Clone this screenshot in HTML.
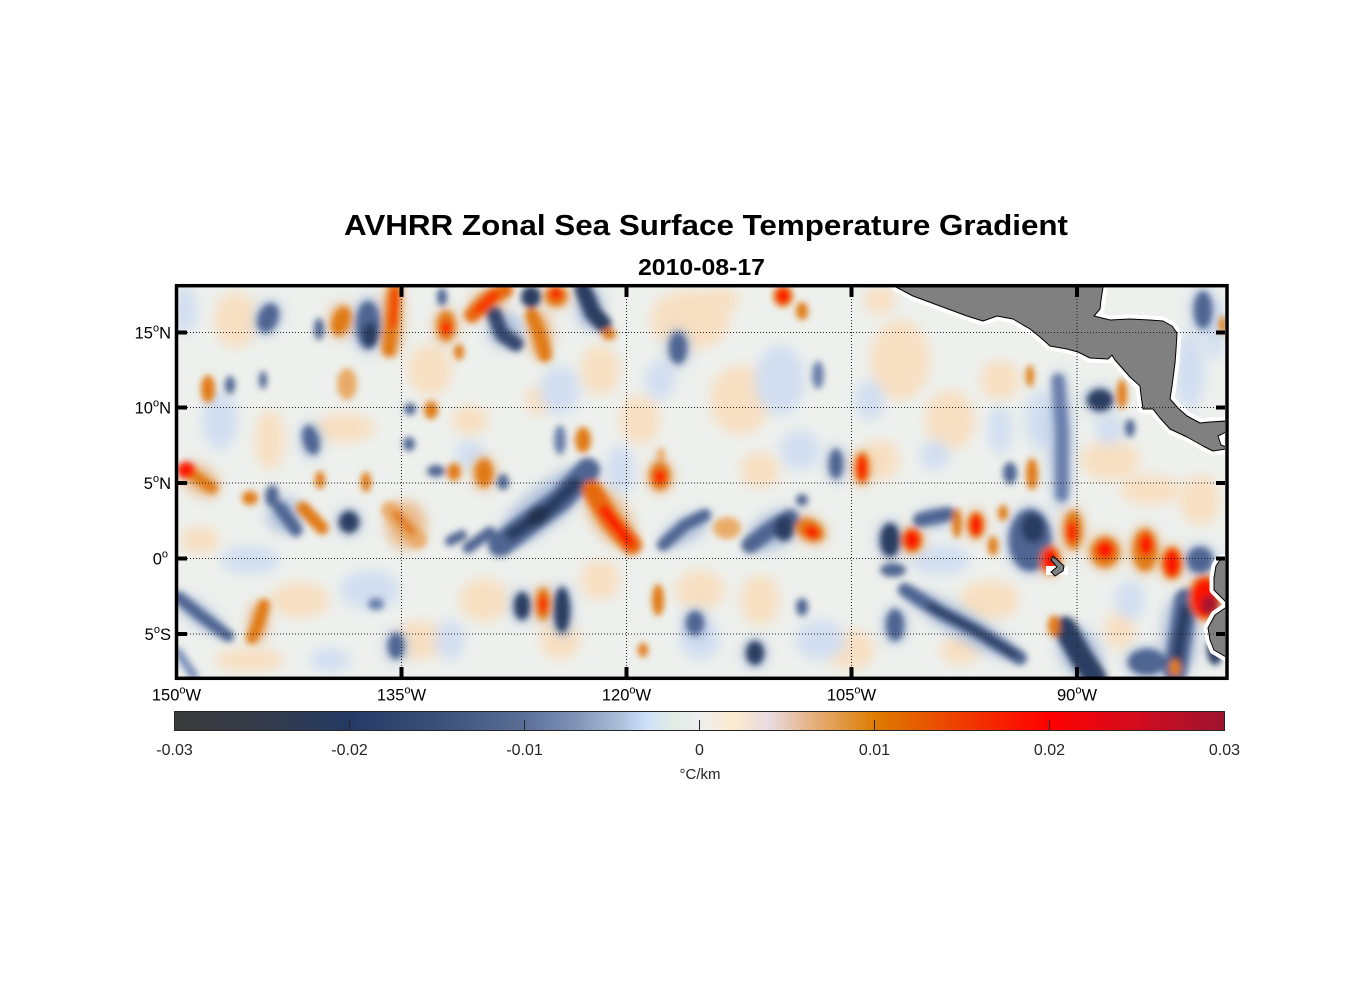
<!DOCTYPE html>
<html><head><meta charset="utf-8"><style>
html,body{margin:0;padding:0;background:#fff;}
svg{display:block;font-family:"Liberation Sans",Arial,sans-serif;}
</style></head><body>
<svg width="1356" height="1000" viewBox="0 0 1356 1000" xmlns="http://www.w3.org/2000/svg">
<defs>
<clipPath id="c"><rect x="178" y="287" width="1047" height="390"/></clipPath>
<filter id="b1" x="-20%" y="-20%" width="140%" height="140%"><feGaussianBlur stdDeviation="6"/></filter>
<filter id="b2" x="-20%" y="-20%" width="140%" height="140%"><feGaussianBlur stdDeviation="3.3"/></filter>
<linearGradient id="cb" x1="0" x2="1" y1="0" y2="0">
<stop offset="0" stop-color="#3b3b3b"/><stop offset="0.0833" stop-color="#343a4a"/>
<stop offset="0.1667" stop-color="#243a64"/><stop offset="0.25" stop-color="#3b5078"/>
<stop offset="0.333" stop-color="#5a6e96"/><stop offset="0.383" stop-color="#8293b8"/>
<stop offset="0.425" stop-color="#aebfdc"/><stop offset="0.45" stop-color="#cfe1f8"/>
<stop offset="0.475" stop-color="#e0ece4"/><stop offset="0.5" stop-color="#eeeeee"/>
<stop offset="0.533" stop-color="#fceacf"/><stop offset="0.567" stop-color="#e9dadf"/>
<stop offset="0.617" stop-color="#e4a86a"/><stop offset="0.667" stop-color="#dd7c00"/>
<stop offset="0.75" stop-color="#f03c00"/><stop offset="0.833" stop-color="#ff0000"/>
<stop offset="0.917" stop-color="#d20c1e"/><stop offset="1" stop-color="#9e1430"/>
</linearGradient>
</defs>

<!-- titles -->
<text x="706" y="235" font-size="29" font-weight="bold" text-anchor="middle" fill="#000" textLength="724" lengthAdjust="spacingAndGlyphs">AVHRR Zonal Sea Surface Temperature Gradient</text>
<text x="701.5" y="275" font-size="23" font-weight="bold" text-anchor="middle" fill="#000" textLength="127" lengthAdjust="spacingAndGlyphs">2010-08-17</text>

<g clip-path="url(#c)">
<rect x="176" y="285" width="1052" height="395" fill="#edf0ed"/>

<!-- faint texture -->
<g filter="url(#b1)" opacity="0.95">
<g fill="#f8dfc0">
<ellipse cx="236" cy="320" rx="22" ry="28"/><ellipse cx="200" cy="540" rx="20" ry="14"/><ellipse cx="300" cy="600" rx="30" ry="18"/>
<ellipse cx="250" cy="660" rx="35" ry="12"/><ellipse cx="345" cy="428" rx="30" ry="15"/><ellipse cx="270" cy="440" rx="15" ry="30"/>
<ellipse cx="430" cy="370" rx="22" ry="26"/><ellipse cx="484" cy="600" rx="25" ry="22"/><ellipse cx="600" cy="370" rx="20" ry="25"/>
<ellipse cx="470" cy="420" rx="18" ry="15"/><ellipse cx="690" cy="320" rx="40" ry="30"/><ellipse cx="740" cy="400" rx="30" ry="35"/>
<ellipse cx="700" cy="590" rx="25" ry="20"/><ellipse cx="760" cy="600" rx="20" ry="25"/><ellipse cx="900" cy="360" rx="30" ry="40"/>
<ellipse cx="950" cy="420" rx="25" ry="30"/><ellipse cx="880" cy="460" rx="20" ry="20"/><ellipse cx="1000" cy="380" rx="20" ry="20"/>
<ellipse cx="990" cy="600" rx="30" ry="20"/><ellipse cx="1110" cy="460" rx="30" ry="20"/><ellipse cx="1150" cy="490" rx="30" ry="15"/>
<ellipse cx="1200" cy="500" rx="20" ry="25"/><ellipse cx="850" cy="650" rx="25" ry="20"/><ellipse cx="560" cy="640" rx="20" ry="20"/>
<ellipse cx="640" cy="420" rx="20" ry="25"/><ellipse cx="760" cy="470" rx="20" ry="18"/><ellipse cx="720" cy="300" rx="20" ry="12"/>
<ellipse cx="960" cy="650" rx="20" ry="15"/><ellipse cx="420" cy="640" rx="25" ry="20"/><ellipse cx="1120" cy="630" rx="15" ry="20"/>
<ellipse cx="600" cy="580" rx="20" ry="20"/><ellipse cx="540" cy="400" rx="15" ry="15"/><ellipse cx="880" cy="300" rx="15" ry="15"/>
</g>
<g fill="#d0def1">
<ellipse cx="185" cy="310" rx="12" ry="24"/><ellipse cx="220" cy="420" rx="18" ry="30"/><ellipse cx="250" cy="560" rx="30" ry="14"/>
<ellipse cx="370" cy="590" rx="30" ry="20"/><ellipse cx="470" cy="455" rx="15" ry="15"/><ellipse cx="560" cy="390" rx="20" ry="25"/>
<ellipse cx="620" cy="470" rx="15" ry="25"/><ellipse cx="780" cy="380" rx="25" ry="35"/><ellipse cx="800" cy="450" rx="20" ry="20"/>
<ellipse cx="870" cy="400" rx="15" ry="20"/><ellipse cx="935" cy="455" rx="15" ry="15"/><ellipse cx="1000" cy="430" rx="12" ry="25"/>
<ellipse cx="1040" cy="420" rx="15" ry="30"/><ellipse cx="700" cy="640" rx="20" ry="20"/><ellipse cx="820" cy="640" rx="25" ry="20"/>
<ellipse cx="940" cy="560" rx="30" ry="15"/><ellipse cx="1130" cy="600" rx="15" ry="20"/><ellipse cx="1110" cy="430" rx="15" ry="15"/>
<ellipse cx="1190" cy="370" rx="15" ry="40"/><ellipse cx="1215" cy="330" rx="10" ry="30"/><ellipse cx="660" cy="380" rx="15" ry="20"/>
<ellipse cx="330" cy="660" rx="20" ry="12"/><ellipse cx="450" cy="640" rx="15" ry="20"/>
</g>
</g>

<!-- halos -->
<g filter="url(#b1)">
<g fill="#a9bcdb" opacity="0.85">
<ellipse cx="368" cy="325" rx="16" ry="28"/><ellipse cx="268" cy="318" rx="13" ry="18" transform="rotate(20 268 318)"/>
<ellipse cx="311" cy="440" rx="11" ry="18"/><ellipse cx="285" cy="515" rx="18" ry="18"/><ellipse cx="349" cy="522" rx="13" ry="14"/>
<ellipse cx="544" cy="507" rx="62" ry="20" transform="rotate(-40 544 507)"/><ellipse cx="505" cy="330" rx="18" ry="18"/>
<ellipse cx="590" cy="308" rx="14" ry="22"/><ellipse cx="200" cy="615" rx="30" ry="10" transform="rotate(38 200 615)"/>
<ellipse cx="678" cy="348" rx="12" ry="19"/><ellipse cx="836" cy="464" rx="10" ry="18"/>
<ellipse cx="685" cy="530" rx="28" ry="12" transform="rotate(-30 685 530)"/><ellipse cx="775" cy="530" rx="30" ry="18" transform="rotate(-30 775 530)"/>
<ellipse cx="890" cy="540" rx="13" ry="20"/><ellipse cx="935" cy="518" rx="18" ry="10"/><ellipse cx="1030" cy="540" rx="24" ry="34"/>
<ellipse cx="963" cy="625" rx="65" ry="14" transform="rotate(31 963 625)"/><ellipse cx="1060" cy="440" rx="11" ry="70"/>
<ellipse cx="1100" cy="400" rx="16" ry="14"/><ellipse cx="1200" cy="560" rx="16" ry="16"/><ellipse cx="1180" cy="635" rx="18" ry="40"/>
<ellipse cx="1080" cy="653" rx="20" ry="30" transform="rotate(-30 1080 653)"/><ellipse cx="1147" cy="662" rx="22" ry="16"/>
<ellipse cx="1203" cy="310" rx="12" ry="22"/><ellipse cx="522" cy="606" rx="11" ry="17"/><ellipse cx="562" cy="610" rx="11" ry="26"/>
<ellipse cx="396" cy="646" rx="11" ry="16"/><ellipse cx="755" cy="653" rx="12" ry="15"/><ellipse cx="695" cy="623" rx="12" ry="15"/>
<ellipse cx="895" cy="625" rx="12" ry="19"/>
</g>
<g fill="#eab27a" opacity="0.85">
<ellipse cx="392" cy="320" rx="12" ry="36"/><ellipse cx="341" cy="321" rx="12" ry="18"/><ellipse cx="446" cy="326" rx="12" ry="18"/>
<ellipse cx="488" cy="303" rx="18" ry="12"/><ellipse cx="540" cy="335" rx="12" ry="24"/><ellipse cx="556" cy="296" rx="14" ry="12"/>
<ellipse cx="200" cy="480" rx="22" ry="14" transform="rotate(35 200 480)"/><ellipse cx="610" cy="517" rx="18" ry="36" transform="rotate(-35 610 517)"/>
<ellipse cx="406" cy="525" rx="20" ry="24"/><ellipse cx="484" cy="473" rx="12" ry="17"/><ellipse cx="660" cy="476" rx="13" ry="17"/>
<ellipse cx="862" cy="468" rx="9" ry="18"/><ellipse cx="810" cy="530" rx="18" ry="13" transform="rotate(30 810 530)"/>
<ellipse cx="912" cy="540" rx="12" ry="14"/><ellipse cx="976" cy="525" rx="10" ry="15"/><ellipse cx="1073" cy="530" rx="12" ry="22"/>
<ellipse cx="1105" cy="552" rx="17" ry="18"/><ellipse cx="1145" cy="550" rx="15" ry="24"/><ellipse cx="1172" cy="563" rx="12" ry="18"/>
<ellipse cx="1205" cy="598" rx="18" ry="24"/><ellipse cx="543" cy="604" rx="10" ry="19"/><ellipse cx="258" cy="622" rx="10" ry="20"/>
<ellipse cx="1050" cy="560" rx="12" ry="16"/>
</g>
</g>

<!-- strong features -->
<g filter="url(#b2)">
<g fill="#4f6592">
<ellipse cx="368" cy="325" rx="12" ry="24"/><ellipse cx="268" cy="318" rx="10" ry="15" transform="rotate(20 268 318)"/>
<ellipse cx="319" cy="329" rx="5" ry="11"/><ellipse cx="230" cy="385" rx="5" ry="9"/><ellipse cx="263" cy="380" rx="4" ry="9"/>
<ellipse cx="311" cy="440" rx="8" ry="15" transform="rotate(-15 311 440)"/><ellipse cx="272" cy="496" rx="7" ry="11"/>
<ellipse cx="410" cy="409" rx="6" ry="6"/><ellipse cx="409" cy="444" rx="6" ry="7"/><ellipse cx="436" cy="471" rx="9" ry="6"/>
<ellipse cx="503" cy="482" rx="6" ry="8"/><ellipse cx="442" cy="297" rx="5" ry="9"/><ellipse cx="396" cy="646" rx="8" ry="13"/>
<ellipse cx="678" cy="348" rx="9" ry="16"/><ellipse cx="836" cy="464" rx="7" ry="15"/><ellipse cx="802" cy="500" rx="6" ry="6"/>
<ellipse cx="1030" cy="540" rx="21" ry="31"/><ellipse cx="893" cy="570" rx="13" ry="7"/><ellipse cx="895" cy="625" rx="9" ry="16"/>
<ellipse cx="695" cy="623" rx="9" ry="12"/><ellipse cx="802" cy="607" rx="6" ry="9"/><ellipse cx="1010" cy="473" rx="7" ry="11"/>
<ellipse cx="1130" cy="428" rx="5" ry="9"/><ellipse cx="1203" cy="310" rx="9" ry="19"/><ellipse cx="1200" cy="560" rx="13" ry="13"/>
<ellipse cx="1147" cy="662" rx="19" ry="13"/>
</g>
<g fill="#6a7fab">
<ellipse cx="560" cy="440" rx="6" ry="15"/><ellipse cx="376" cy="604" rx="8" ry="6"/><ellipse cx="818" cy="375" rx="6" ry="14"/>
</g>
<g fill="none" stroke-linecap="round" stroke-linejoin="round">
<path d="M280,508 L296,530" stroke="#4f6592" stroke-width="13"/>
<path d="M500,545 L530,522 L560,500 L588,470" stroke="#4f6592" stroke-width="24"/>
<path d="M512,534 L548,510 L575,484" stroke="#2b3d62" stroke-width="13"/>
<path d="M450,541 L462,535" stroke="#4f6592" stroke-width="10"/>
<path d="M468,548 L490,532" stroke="#4f6592" stroke-width="11"/>
<path d="M494,314 L502,334 L516,344" stroke="#34476e" stroke-width="15"/>
<path d="M583,289 L593,313 L603,324" stroke="#2b3d62" stroke-width="17"/>
<path d="M178,597 L200,615 L228,636" stroke="#4f6592" stroke-width="12"/>
<path d="M663,545 L685,525 L705,515" stroke="#4f6592" stroke-width="12"/>
<path d="M750,545 L770,530 L790,518" stroke="#4f6592" stroke-width="17"/>
<path d="M920,520 L948,514" stroke="#4f6592" stroke-width="14"/>
<path d="M905,590 L940,612 L975,630 L1020,658" stroke="#4f6592" stroke-width="14"/>
<path d="M930,606 L975,630 L1015,655" stroke="#2b3d62" stroke-width="7"/>
<path d="M1058,380 L1062,430 L1062,495" stroke="#6a7fab" stroke-width="13"/>
<path d="M1186,600 L1180,640 L1175,672" stroke="#4f6592" stroke-width="23"/>
<path d="M1185,610 L1180,640 L1176,668" stroke="#2b3d62" stroke-width="11"/>
<path d="M1065,628 L1080,655 L1095,678" stroke="#2b3d62" stroke-width="23"/>
<path d="M178,652 L194,676" stroke="#7f93bb" stroke-width="9"/>
</g>
<g fill="#2b3d62">
<ellipse cx="349" cy="522" rx="10" ry="11"/><ellipse cx="531" cy="297" rx="10" ry="11"/><ellipse cx="522" cy="606" rx="8" ry="14"/>
<ellipse cx="562" cy="610" rx="8" ry="23"/><ellipse cx="784" cy="528" rx="10" ry="13"/><ellipse cx="890" cy="540" rx="10" ry="17"/>
<ellipse cx="1033" cy="528" rx="12" ry="15"/><ellipse cx="755" cy="653" rx="9" ry="12"/><ellipse cx="1100" cy="400" rx="13" ry="11"/>
<ellipse cx="1215" cy="650" rx="8" ry="15"/><ellipse cx="370" cy="335" rx="8" ry="13"/>
</g>
<ellipse cx="538" cy="516" rx="13" ry="9" fill="#22314f" transform="rotate(-35 538 516)"/>

<!-- oranges -->
<g fill="#e9aa68">
<ellipse cx="347" cy="384" rx="10" ry="16"/><ellipse cx="727" cy="528" rx="14" ry="11"/><ellipse cx="661" cy="456" rx="4" ry="9"/>
</g>
<g fill="#e07a12">
<ellipse cx="341" cy="321" rx="9" ry="15" transform="rotate(20 341 321)"/><ellipse cx="208" cy="389" rx="7" ry="14"/>
<ellipse cx="250" cy="498" rx="8" ry="7"/><ellipse cx="320" cy="480" rx="5" ry="9"/><ellipse cx="366" cy="482" rx="5" ry="10"/>
<ellipse cx="431" cy="410" rx="7" ry="9"/><ellipse cx="454" cy="472" rx="7" ry="9"/><ellipse cx="484" cy="473" rx="9" ry="14"/>
<ellipse cx="583" cy="440" rx="8" ry="13"/><ellipse cx="446" cy="326" rx="9" ry="15"/><ellipse cx="556" cy="296" rx="11" ry="10"/>
<ellipse cx="609" cy="334" rx="7" ry="6"/><ellipse cx="459" cy="352" rx="5" ry="8"/><ellipse cx="543" cy="604" rx="7" ry="16"/>
<ellipse cx="783" cy="296" rx="10" ry="11"/><ellipse cx="660" cy="476" rx="10" ry="14"/>
<ellipse cx="810" cy="530" rx="15" ry="10" transform="rotate(30 810 530)"/><ellipse cx="957" cy="523" rx="5" ry="15"/>
<ellipse cx="993" cy="546" rx="5" ry="10"/><ellipse cx="1003" cy="513" rx="5" ry="8"/><ellipse cx="1073" cy="530" rx="9" ry="19"/>
<ellipse cx="658" cy="600" rx="6" ry="16"/><ellipse cx="643" cy="650" rx="5" ry="7"/><ellipse cx="1030" cy="376" rx="4" ry="11"/>
<ellipse cx="1032" cy="474" rx="6" ry="16"/><ellipse cx="1054" cy="626" rx="6" ry="11"/><ellipse cx="802" cy="311" rx="6" ry="9"/>
<ellipse cx="1105" cy="552" rx="14" ry="15"/><ellipse cx="1145" cy="550" rx="12" ry="21"/><ellipse cx="1122" cy="394" rx="5" ry="15"/>
<ellipse cx="1175" cy="668" rx="6" ry="9"/><ellipse cx="1223" cy="325" rx="4" ry="9"/><ellipse cx="862" cy="468" rx="7" ry="16"/>
<ellipse cx="912" cy="540" rx="10" ry="12"/><ellipse cx="976" cy="525" rx="8" ry="13"/><ellipse cx="1172" cy="563" rx="10" ry="16"/>
<ellipse cx="1205" cy="598" rx="16" ry="22"/><ellipse cx="1050" cy="560" rx="10" ry="14"/>
</g>
<g fill="none" stroke-linecap="round" stroke-linejoin="round">
<path d="M395,289 L392,320 L389,350" stroke="#e07a12" stroke-width="14"/>
<path d="M395,292 L393,325" stroke="#f53a00" stroke-width="7"/>
<path d="M192,474 L212,488" stroke="#e07a12" stroke-width="11"/>
<path d="M303,508 L322,528" stroke="#e07a12" stroke-width="13"/>
<path d="M390,510 L418,540" stroke="#e9aa68" stroke-width="17"/>
<path d="M396,514 L412,532" stroke="#e07a12" stroke-width="8"/>
<path d="M592,490 L610,520 L632,545" stroke="#e66a10" stroke-width="20"/>
<path d="M604,510 L630,543" stroke="#fb1500" stroke-width="10"/>
<path d="M472,315 L490,298 L505,290" stroke="#e66a10" stroke-width="16"/>
<path d="M478,310 L495,295" stroke="#fb2a00" stroke-width="8"/>
<path d="M532,315 L540,335 L545,355" stroke="#e07a12" stroke-width="14"/>
<path d="M264,605 L258,625 L252,638" stroke="#e07a12" stroke-width="12"/>
</g>
<g fill="#fb1500">
<ellipse cx="186" cy="470" rx="9" ry="8"/><ellipse cx="446" cy="328" rx="5" ry="7"/><ellipse cx="556" cy="294" rx="6" ry="6"/>
<ellipse cx="543" cy="604" rx="4" ry="9"/><ellipse cx="783" cy="296" rx="7" ry="8"/><ellipse cx="660" cy="477" rx="6" ry="7"/>
<ellipse cx="812" cy="532" rx="8" ry="6" transform="rotate(30 812 532)"/><ellipse cx="862" cy="468" rx="5" ry="13"/>
<ellipse cx="912" cy="540" rx="8" ry="10"/><ellipse cx="976" cy="525" rx="6" ry="11"/><ellipse cx="1050" cy="560" rx="8" ry="12"/>
<ellipse cx="1072" cy="532" rx="5" ry="11"/><ellipse cx="1105" cy="550" rx="9" ry="9"/><ellipse cx="1146" cy="545" rx="7" ry="11"/>
<ellipse cx="1172" cy="563" rx="8" ry="14"/><ellipse cx="1205" cy="598" rx="14" ry="20"/>
</g>
<ellipse cx="1210" cy="605" rx="9" ry="10" fill="#a8182e"/>
</g>

<!-- land: Central America -->
<g stroke-linejoin="round">
<path d="M896,287 L1103,287 L1101,300 L1100,309 L1094,316 L1110,320 L1130,319 L1150,320 L1163,321 L1172,326 L1177,333 L1176,350 L1175,363 L1172,386 L1170,399 L1178,408 L1187,416 L1200,423 L1210,422 L1226,421 L1226,432 L1218,436 L1221,445 L1226,447 L1226,449 L1213,451 L1203,446 L1187,437 L1170,429 L1160,418 L1153,409 L1143,409 L1141,395 L1140,386 L1130,377 L1123,369 L1115,360 L1112,355 L1108,359 L1090,358 L1078,352 L1067,349 L1050,346 L1040,337 L1030,329 L1013,319 L997,316 L983,321 L967,316 L940,306 L913,296 Z" fill="#fff" stroke="#fff" stroke-width="9"/>
<path d="M896,287 L1103,287 L1101,300 L1100,309 L1094,316 L1110,320 L1130,319 L1150,320 L1163,321 L1172,326 L1177,333 L1176,350 L1175,363 L1172,386 L1170,399 L1178,408 L1187,416 L1200,423 L1210,422 L1226,421 L1226,432 L1218,436 L1221,445 L1226,447 L1226,449 L1213,451 L1203,446 L1187,437 L1170,429 L1160,418 L1153,409 L1143,409 L1141,395 L1140,386 L1130,377 L1123,369 L1115,360 L1112,355 L1108,359 L1090,358 L1078,352 L1067,349 L1050,346 L1040,337 L1030,329 L1013,319 L997,316 L983,321 L967,316 L940,306 L913,296 Z" fill="#808080" stroke="#000" stroke-width="1"/>
<!-- South America -->
<path d="M1228,557 L1220,560 L1216,566 L1214,578 L1214,590 L1220,596 L1228,604 Z M1228,606 L1215,615 L1208,628 L1210,640 L1214,650 L1228,658 Z" fill="#fff" stroke="#fff" stroke-width="9"/>
<path d="M1228,557 L1220,560 L1216,566 L1214,578 L1214,590 L1220,596 L1228,604 Z M1228,606 L1215,615 L1208,628 L1210,640 L1214,650 L1228,658 Z" fill="#808080" stroke="#000" stroke-width="1"/>
<!-- Galapagos -->
<rect x="1046" y="566" width="22" height="9" fill="#fff"/>
<path d="M1053,556 L1064,566 L1063,571 L1055,576 L1051,572 L1057,567 L1051,560 Z" fill="#808080" stroke="#000" stroke-width="1"/>
</g>
</g>

<!-- grid -->
<g stroke="#222" stroke-width="1" stroke-dasharray="1 2" fill="none">
<path d="M178,332.5 H1225 M178,407.5 H1225 M178,483 H1225 M178,558.5 H1225 M178,634 H1225"/>
<path d="M401.5,287 V677 M626.5,287 V677 M851.5,287 V677 M1077,287 V677"/>
</g>

<!-- ticks -->
<g fill="#000">
<rect x="178" y="330.5" width="9" height="4"/><rect x="178" y="405.5" width="9" height="4"/><rect x="178" y="481" width="9" height="4"/>
<rect x="178" y="556.5" width="9" height="4"/><rect x="178" y="632" width="9" height="4"/>
<rect x="1216" y="330.5" width="9" height="4"/><rect x="1216" y="405.5" width="9" height="4"/><rect x="1216" y="481" width="9" height="4"/>
<rect x="1216" y="556.5" width="9" height="4"/><rect x="1216" y="632" width="9" height="4"/>
<rect x="399.5" y="287" width="4" height="10"/><rect x="624.5" y="287" width="4" height="10"/><rect x="849.5" y="287" width="4" height="10"/><rect x="1075" y="287" width="4" height="10"/>
<rect x="399.5" y="667" width="4" height="10"/><rect x="624.5" y="667" width="4" height="10"/><rect x="849.5" y="667" width="4" height="10"/><rect x="1075" y="667" width="4" height="10"/>
</g>

<!-- frame -->
<rect x="176.5" y="285.7" width="1050.5" height="392.6" fill="none" stroke="#000" stroke-width="3.5"/>

<!-- y labels -->
<g font-size="16.5" fill="#000" text-anchor="end">
<text x="171" y="338.5">15<tspan dy="-7" font-size="11">o</tspan><tspan dy="7">N</tspan></text>
<text x="171" y="413.5">10<tspan dy="-7" font-size="11">o</tspan><tspan dy="7">N</tspan></text>
<text x="171" y="489">5<tspan dy="-7" font-size="11">o</tspan><tspan dy="7">N</tspan></text>
<text x="168" y="564.5">0<tspan dy="-7" font-size="11">o</tspan></text>
<text x="171" y="640">5<tspan dy="-7" font-size="11">o</tspan><tspan dy="7">S</tspan></text>
</g>
<!-- x labels -->
<g font-size="16.5" fill="#000" text-anchor="middle">
<text x="176.5" y="700.5">150<tspan dy="-7" font-size="11">o</tspan><tspan dy="7">W</tspan></text>
<text x="401.5" y="700.5">135<tspan dy="-7" font-size="11">o</tspan><tspan dy="7">W</tspan></text>
<text x="626.5" y="700.5">120<tspan dy="-7" font-size="11">o</tspan><tspan dy="7">W</tspan></text>
<text x="851.5" y="700.5">105<tspan dy="-7" font-size="11">o</tspan><tspan dy="7">W</tspan></text>
<text x="1077" y="700.5">90<tspan dy="-7" font-size="11">o</tspan><tspan dy="7">W</tspan></text>
</g>

<!-- colorbar -->
<rect x="174.5" y="711.5" width="1050" height="19" fill="url(#cb)" stroke="#262626" stroke-width="1"/>
<g stroke="#262626" stroke-width="1">
<path d="M349.5,720 V730 M524.5,720 V730 M699.5,720 V730 M874.5,720 V730 M1049.5,720 V730"/>
</g>
<g font-size="16" fill="#262626" text-anchor="middle">
<text x="174.5" y="755">-0.03</text><text x="349.5" y="755">-0.02</text><text x="524.5" y="755">-0.01</text>
<text x="699.5" y="755">0</text><text x="874.5" y="755">0.01</text><text x="1049.5" y="755">0.02</text><text x="1224.5" y="755">0.03</text>
<text x="700" y="779" font-size="15">°C/km</text>
</g>
</svg>
</body></html>
